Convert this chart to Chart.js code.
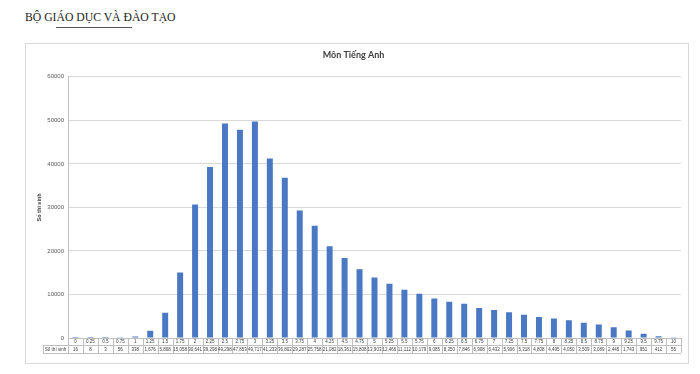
<!DOCTYPE html>
<html lang="vi">
<head>
    <meta charset="UTF-8">
    <title>Môn Tiếng Anh</title>
    <script src="https://cdn.jsdelivr.net/npm/chart.js"></script>
    <style>
        body { margin: 0; background: #fff; width: 700px; height: 374px; position: relative; overflow: hidden; }
        .header { position: absolute; left: 25px; top: 11px; font-family: "Liberation Serif", serif; font-size: 11.7px; color: #222; }
        .rule { position: absolute; left: 56px; top: 27px; width: 76px; height: 1px; background: #555; }
        .box { position: absolute; left: 25px; top: 43px; width: 662px; height: 319px; border: 1px solid #d9d9d9; }
    </style>
</head>
<body>
    <div class="header">BỘ GIÁO DỤC VÀ ĐÀO TẠO</div>
    <div class="rule"></div>
    <div class="box"><canvas id="chart" width="662" height="319"></canvas></div>

    <script>
        const diem = ['0', '0.25', '0.5', '0.75', '1', '1.25', '1.5', '1.75', '2', '2.25', '2.5', '2.75',
            '3', '3.25', '3.5', '3.75', '4', '4.25', '4.5', '4.75', '5', '5.25', '5.5', '5.75',
            '6', '6.25', '6.5', '6.75', '7', '7.25', '7.5', '7.75', '8', '8.25', '8.5', '8.75',
            '9', '9.25', '9.5', '9.75', '10'];
        const soThiSinh = [16, 8, 3, 56, 338, 1676, 5808, 15058, 30641, 39298, 49298, 47853,
            49717, 41233, 36802, 29287, 25758, 21082, 18361, 15808, 13903, 12466, 11112, 10179,
            9085, 8350, 7846, 6908, 6432, 5906, 5318, 4808, 4495, 4050, 3509, 3089,
            2445, 1743, 951, 412, 55];
        const yTicks = [0, 10000, 20000, 30000, 40000, 50000, 60000];

        // bang so lieu duoi truc x: hang diem + hang so thi sinh
        const tablePlugin = {
            id: 'dataTable',
            afterDraw(chart) {
                const ctx = chart.ctx;
                const x = chart.scales.x;
                const top = chart.chartArea.bottom;
                const r1 = top + 7, r2 = top + 15;
                const left = x.left, right = x.right, labelLeft = 17;
                const step = (right - left) / diem.length;
                ctx.save();
                ctx.strokeStyle = '#bfbfbf';
                ctx.lineWidth = 1;
                ctx.beginPath();
                ctx.moveTo(labelLeft, r1 + 0.5); ctx.lineTo(right, r1 + 0.5);
                ctx.moveTo(labelLeft, r2 + 0.5); ctx.lineTo(right, r2 + 0.5);
                ctx.moveTo(labelLeft + 0.5, r1); ctx.lineTo(labelLeft + 0.5, r2);
                for (let i = 0; i <= diem.length; i++) {
                    const px = Math.round(left + i * step) + 0.5;
                    ctx.moveTo(px, top); ctx.lineTo(px, r2);
                }
                ctx.stroke();
                ctx.fillStyle = '#404040';
                ctx.font = '4.5px "Liberation Sans", sans-serif';
                ctx.textAlign = 'center';
                ctx.textBaseline = 'middle';
                diem.forEach((d, i) => {
                    const cx = x.getPixelForValue(i);
                    ctx.fillText(d, cx, (top + r1) / 2 + 0.5);
                    ctx.fillText(soThiSinh[i].toLocaleString('en-US'), cx, (r1 + r2) / 2 + 0.5);
                });
                ctx.fillText('Số thí sinh', (labelLeft + left) / 2, (r1 + r2) / 2 + 0.5);
                ctx.restore();
            }
        };

        new Chart(document.getElementById('chart'), {
            type: 'bar',
            data: {
                labels: diem,
                datasets: [{
                    label: 'Số thí sinh',
                    data: soThiSinh,
                    backgroundColor: '#4a78c2',
                    barPercentage: 0.4,
                    categoryPercentage: 1
                }]
            },
            options: {
                responsive: false,
                animation: false,
                layout: { padding: { top: 0, right: 7, bottom: 18, left: 0 } },
                plugins: {
                    legend: { display: false },
                    tooltip: { enabled: false },
                    title: {
                        display: true,
                        text: 'Môn Tiếng Anh',
                        color: '#404040',
                        font: { family: 'Lato', size: 9, weight: 'bold' },
                        padding: { top: 6, bottom: 16 }
                    }
                },
                scales: {
                    x: {
                        grid: { display: false },
                        border: { color: '#bfbfbf' },
                        ticks: { display: false },
                        afterFit(scale) { scale.height = 7; }
                    },
                    y: {
                        min: 0,
                        max: 60000,
                        afterBuildTicks(scale) { scale.ticks = yTicks.map(v => ({ value: v })); },
                        grid: { color: '#d9d9d9', drawTicks: false },
                        border: { color: '#bfbfbf' },
                        ticks: {
                            padding: 4, color: '#595959',
                            font: { family: 'Liberation Sans', size: 6 },
                            callback: v => String(v)
                        },
                        title: {
                            display: true, text: 'Số thí sinh', color: '#404040',
                            font: { family: 'Liberation Sans', size: 5.5, weight: 'bold' },
                            padding: { top: 10, bottom: 0 }
                        },
                        afterFit(scale) { scale.width = 42; }
                    }
                }
            },
            plugins: [tablePlugin]
        });
    </script>
</body>
</html>
